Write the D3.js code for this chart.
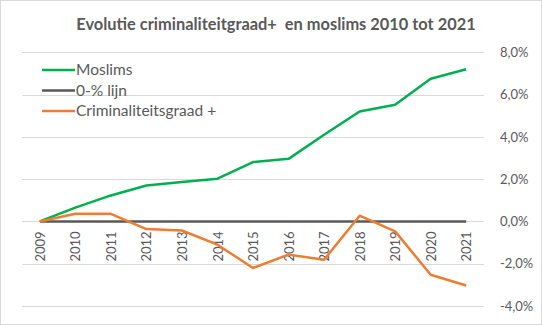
<!DOCTYPE html>
<html><head><meta charset="utf-8">
<script src="https://cdn.jsdelivr.net/npm/d3@7"></script>
<style>body{margin:0;background:#fff}svg{display:block}text{font-family:Lato,"Open Sans",sans-serif;fill:#595959}</style>
</head><body>
<script>
const years = ["2009","2010","2011","2012","2013","2014","2015","2016","2017","2018","2019","2020","2021"];
const moslims = [0,0.65,1.23,1.70,1.86,2.02,2.81,2.96,4.1,5.2,5.52,6.75,7.2];
const criminaliteit = [0,0.36,0.36,-0.36,-0.43,-1.10,-2.2,-1.57,-1.81,0.27,-0.47,-2.52,-3.03];
const nulLijn = years.map(() => 0);
const yTicks = [-4,-2,0,2,4,6,8];
const seriesNames = ["Moslims","0-% lijn","Criminaliteitsgraad +"];
const colors = ["#00B050","#595959","#ED7D31"];

const W=542,H=325;
const svg=d3.select("body").append("svg").attr("width",W).attr("height",H);
svg.append("rect").attr("x",0.5).attr("y",0.5).attr("width",W-1).attr("height",H-1).attr("fill","#fff").attr("stroke","#d9d9d9");

const x=d3.scalePoint().domain(years).range([39.8,466.2]);
const y=d3.scaleLinear().domain([-4,8]).range([306,52.3]);

const g=svg.append("g");
g.selectAll("line.grid").data(yTicks).join("line").attr("class","grid")
 .attr("x1",22).attr("x2",484).attr("y1",d=>Math.round(y(d))+0.5).attr("y2",d=>Math.round(y(d))+0.5)
 .attr("stroke","#d9d9d9").attr("stroke-width",1);

const yAxis=d3.axisRight(y).tickValues(yTicks).tickSize(0).tickPadding(0)
 .tickFormat(d=>d3.format(".1f")(d).replace(".",",").replace("−","-")+"%");
const ya=svg.append("g").attr("transform","translate(500,0)").call(yAxis);
ya.select(".domain").remove();
ya.selectAll("text").attr("x",0).attr("text-anchor","start").attr("font-size","13px").attr("fill","#595959").style("font-family","Lato,'Open Sans',sans-serif");

const xAxis=d3.axisBottom(x).tickSize(0).tickPadding(0);
const xa=svg.append("g").attr("transform",`translate(0,${y(0)})`).call(xAxis);
xa.select(".domain").remove();
xa.selectAll("text").attr("font-size","13px").attr("fill","#595959").style("font-family","Lato,'Open Sans',sans-serif")
 .attr("text-anchor","end").attr("transform","rotate(-90)").attr("x",-10).attr("y",0).attr("dy","0.35em");

const line=d3.line().x((d,i)=>x(years[i])).y(d=>y(d));
const data=[moslims,nulLijn,criminaliteit];
[1,0,2].forEach(k=>{
 svg.append("path").datum(data[k]).attr("d",line).attr("fill","none")
  .attr("stroke",colors[k]).attr("stroke-width",2.5).attr("stroke-linejoin","round");
});

svg.append("text").attr("x",276).attr("y",30).attr("text-anchor","middle")
 .attr("font-size","16.4px").attr("font-weight","bold").attr("xml:space","preserve")
 .style("white-space","pre").text("Evolutie criminaliteitgraad+  en moslims 2010 tot 2021");

const leg=svg.append("g");
seriesNames.forEach((n,i)=>{
 const yy=70+i*20.5;
 leg.append("line").attr("x1",42).attr("x2",75).attr("y1",yy).attr("y2",yy).attr("stroke",colors[i]).attr("stroke-width",2.5);
 leg.append("text").attr("x",76).attr("y",yy).attr("dy","0.35em").attr("font-size","15.5px").text(n);
});
</script>
</body></html>
